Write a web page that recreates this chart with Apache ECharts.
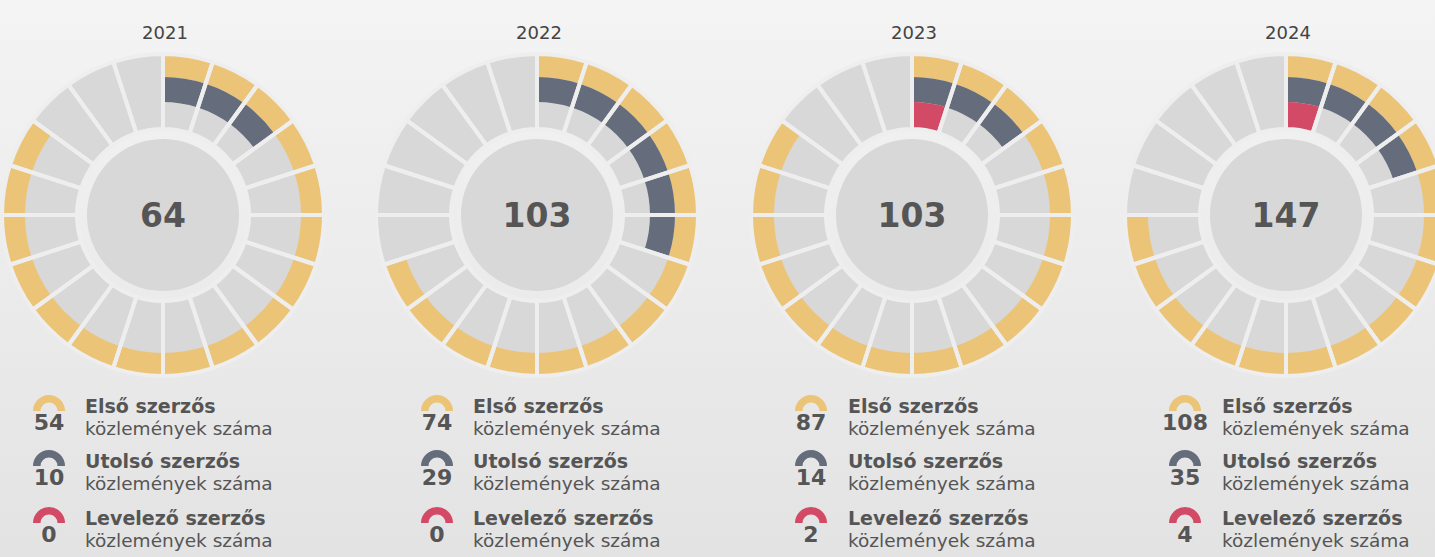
<!DOCTYPE html>
<html>
<head>
<meta charset="utf-8">
<script src="https://cdn.jsdelivr.net/npm/echarts@6/dist/echarts.min.js"></script>
<style>
  html, body { margin: 0; padding: 0; }
  body { background: linear-gradient(#f4f4f4, #e3e3e3); }
  #chart { width: 1435px; height: 557px; }
</style>
</head>
<body>
<div id="chart"></div>
<script>
// values
const years = ['2021', '2022', '2023', '2024']
const totals = [64, 103, 103, 147]
const firstAuthor = [54, 74, 87, 108]
const lastAuthor = [10, 29, 14, 35]
const corrAuthor = [0, 0, 2, 4]
// filled segments (out of 20) on each ring
const firstSegs = [17, 14, 17, 15]
const lastSegs = [3, 6, 3, 4]
const corrSegs = [0, 0, 1, 1]
const legendTitles = ['Első szerzős', 'Utolsó szerzős', 'Levelező szerzős']
const legendSub = 'közlemények száma'

const SEGMENTS = 20
const YELLOW = '#ecc478'
const DARK = '#656c7b'
const RED = '#d34a66'
const GREY = '#d8d8d8'
const GAP = '#eeeeee'
const NONE = 'rgba(0,0,0,0)'
const FONT = '"DejaVu Sans", "Noto Sans", sans-serif'

const centersX = [163, 537, 912, 1286]
const CY = 215
const legendText = [85, 473, 848, 1222]
const legendIcon = [49, 437, 811, 1185]
const rowsY = [411, 466, 523]

const chart = echarts.init(document.getElementById('chart'), null, { renderer: 'svg' })

function ring(cx, radius, filled, color, rest) {
  const data = []
  for (let k = 0; k < SEGMENTS; k++) {
    data.push({ value: 1, itemStyle: { color: k < filled ? color : rest } })
  }
  return {
    type: 'pie',
    silent: true,
    animation: false,
    center: [cx, CY],
    radius: radius,
    startAngle: 90,
    clockwise: true,
    label: { show: false },
    labelLine: { show: false },
    data: data
  }
}

function gaps(cx) {
  const s = ring(cx, [86, 161], 0, NONE, NONE)
  s.itemStyle = { borderColor: GAP, borderWidth: 4 }
  return s
}

function halfIcon(x, y, color) {
  return {
    type: 'pie',
    silent: true,
    animation: false,
    center: [x, y],
    radius: [8.5, 16],
    startAngle: 180,
    clockwise: true,
    label: { show: false },
    labelLine: { show: false },
    data: [
      { value: 1, itemStyle: { color: color } },
      { value: 1, itemStyle: { color: NONE } }
    ]
  }
}

const series = []
const graphic = []
const colors = [YELLOW, DARK, RED]

years.forEach((year, i) => {
  const cx = centersX[i]
  series.push(ring(cx, [86, 161], 0, GREY, GREY))
  series.push(ring(cx, [138, 161], firstSegs[i], YELLOW, NONE))
  series.push(ring(cx, [113, 138], lastSegs[i], DARK, NONE))
  series.push(ring(cx, [86, 113], corrSegs[i], RED, NONE))
  series.push(gaps(cx))
  series.push({
    type: 'pie',
    silent: true,
    animation: false,
    center: [cx, CY],
    radius: [0, 76],
    label: {
      show: true,
      position: 'center',
      formatter: '{c}',
      fontSize: 33,
      fontWeight: 'bold',
      fontFamily: FONT,
      color: '#555555'
    },
    labelLine: { show: false },
    itemStyle: { color: GREY },
    data: [{ value: totals[i], name: year }]
  })

  graphic.push({
    type: 'text',
    silent: true,
    style: {
      text: year, x: cx + 2, y: 32, fill: '#444444',
      fontSize: 18, fontFamily: FONT, align: 'center', verticalAlign: 'middle'
    }
  })

  const counts = [firstAuthor[i], lastAuthor[i], corrAuthor[i]]
  rowsY.forEach((ry, r) => {
    series.push(halfIcon(legendIcon[i], ry, colors[r]))
    graphic.push({
      type: 'text',
      silent: true,
      style: {
        text: String(counts[r]), x: legendIcon[i], y: ry + 11, fill: '#555555',
        fontSize: 22, fontWeight: 'bold', fontFamily: FONT, align: 'center', verticalAlign: 'middle'
      }
    })
    graphic.push({
      type: 'text',
      silent: true,
      style: {
        text: legendTitles[r], x: legendText[i], y: ry - 5, fill: '#555555',
        fontSize: 19, fontWeight: 'bold', fontFamily: FONT, align: 'left', verticalAlign: 'middle'
      }
    })
    graphic.push({
      type: 'text',
      silent: true,
      style: {
        text: legendSub, x: legendText[i], y: ry + 17, fill: '#555555',
        fontSize: 18.5, fontFamily: FONT, align: 'left', verticalAlign: 'middle'
      }
    })
  })
})

chart.setOption({
  backgroundColor: 'transparent',
  animation: false,
  series: series,
  graphic: graphic
})
</script>
</body>
</html>
